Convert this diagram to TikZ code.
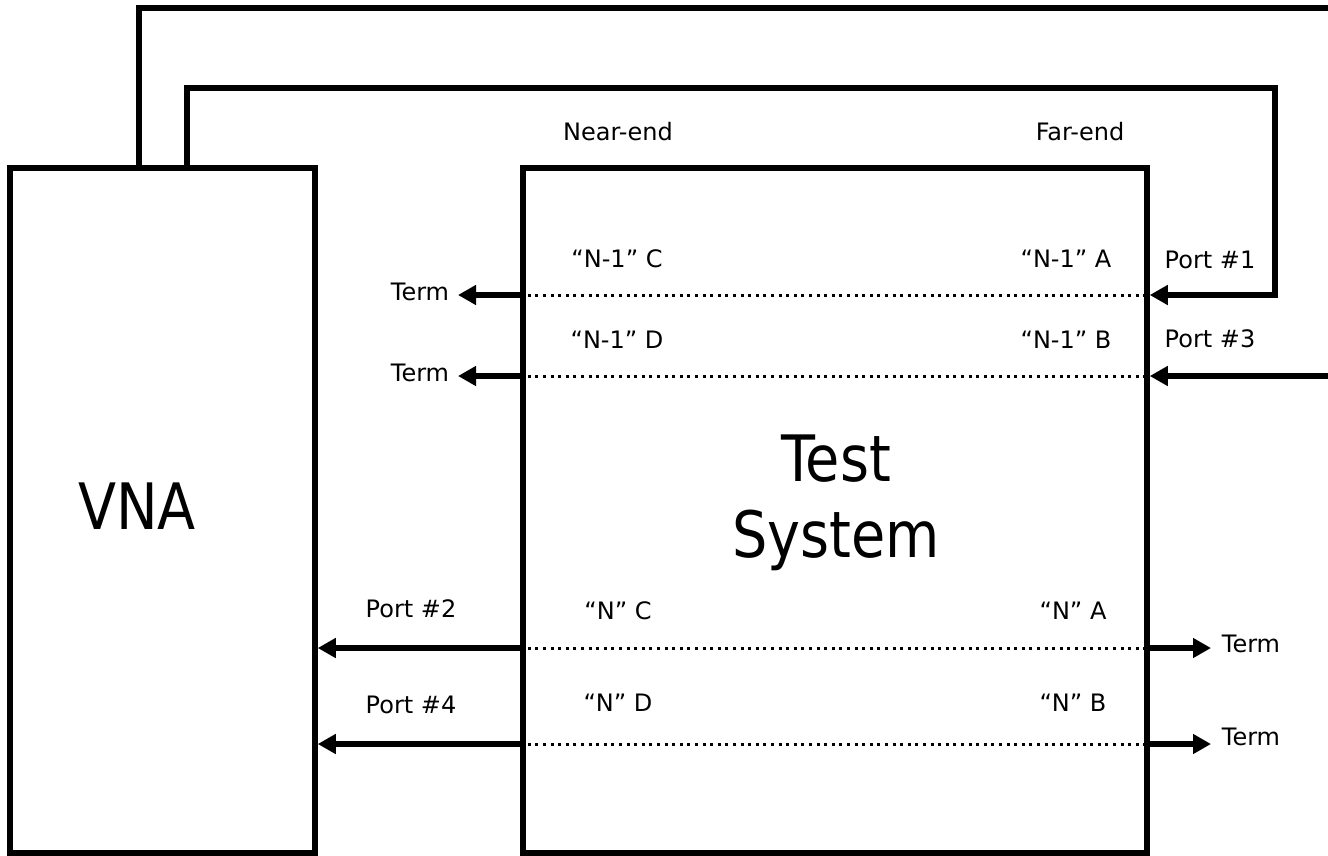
\documentclass[tikz,border=0pt]{standalone}
\usepackage{fontspec}
\setmainfont{DejaVu Sans}
\usepackage{graphicx}
\usetikzlibrary{arrows.meta}
\begin{document}
\begin{tikzpicture}[x=1pt,y=-1pt,
  box/.style={draw,line width=5.5pt,inner sep=0pt,minimum width=#1},
  wire/.style={line width=5.5pt},
  arr/.style={line width=5.5pt,-{Triangle[length=18pt,width=19pt]}},
  dots/.style={line width=3pt,dash pattern=on 3pt off 4.6pt},
  lbl/.style={anchor=base,inner sep=0pt,font=\fontsize{24}{28}\selectfont},
  big/.style={inner sep=0pt,font=\fontsize{64}{76}\selectfont,align=center}]
\useasboundingbox (0,0) rectangle (1328,855);
% boxes
\node[box=305pt,minimum height=685pt] (vna) at (162.5,510.5) {};
\node[box=624pt,minimum height=685pt] (ts) at (835,510.5) {};
\node[big,anchor=base] (vnat) at (137,529) {\scalebox{0.87}[1]{VNA}};
\node[big,anchor=north] (tst) at (836,435) {\scalebox{0.87}[1]{Test}\\\scalebox{0.87}[1]{System}};
% coordinates
\coordinate (r1) at (0,295);
\coordinate (r2) at (0,376);
\coordinate (r3) at (0,648);
\coordinate (r4) at (0,744);
\coordinate (o1) at (139,8);
\coordinate (o1e) at (1332,8);
\coordinate (o2) at (187,88);
\coordinate (o2e) at (1275,88);
\coordinate (p3e) at (1332,376);
\coordinate (tl1) at (458,295);
\coordinate (tl2) at (458,376);
\coordinate (tr1) at (1211,648);
\coordinate (tr2) at (1211,744);
% loop connectors
\draw[wire] (vna.north -| o1) -- (o1) -- (o1e);
\draw[arr] (vna.north -| o2) -- (o2) -- (o2e) -- (o2e |- r1) -- (ts.east |- r1);
\draw[arr] (p3e) -- (ts.east |- r2);
% dotted paths
\foreach \r in {r1,r2,r3,r4} \draw[dots] (ts.west |- \r) -- (ts.east |- \r);
% terminations
\draw[arr] (ts.west |- r1) -- (tl1);
\draw[arr] (ts.west |- r2) -- (tl2);
\draw[arr] (ts.east |- r3) -- (tr1);
\draw[arr] (ts.east |- r4) -- (tr2);
% ports 2 and 4
\draw[arr] (ts.west |- r3) -- (vna.east |- r3);
\draw[arr] (ts.west |- r4) -- (vna.east |- r4);
% labels
\node[lbl] (near) at (618,140) {Near-end};
\node[lbl] (far) at (1080,140) {Far-end};
\node[lbl] (n1c) at (617,267) {“N-1” C};
\node[lbl] (n1a) at (1066,267) {“N-1” A};
\node[lbl] (p1) at (1210,268) {Port \#1};
\node[lbl] (t1) at (420,300) {Term};
\node[lbl] (n1d) at (617,348) {“N-1” D};
\node[lbl] (n1b) at (1066,348) {“N-1” B};
\node[lbl] (p3) at (1210,347) {Port \#3};
\node[lbl] (t2) at (420,381) {Term};
\node[lbl] (p2) at (411,617) {Port \#2};
\node[lbl] (nc) at (618,619) {“N” C};
\node[lbl] (na) at (1073,619) {“N” A};
\node[lbl] (t3) at (1251,652) {Term};
\node[lbl] (p4) at (411,713) {Port \#4};
\node[lbl] (nd) at (618,711) {“N” D};
\node[lbl] (nb) at (1073,711) {“N” B};
\node[lbl] (t4) at (1251,745) {Term};
\end{tikzpicture}
\end{document}
